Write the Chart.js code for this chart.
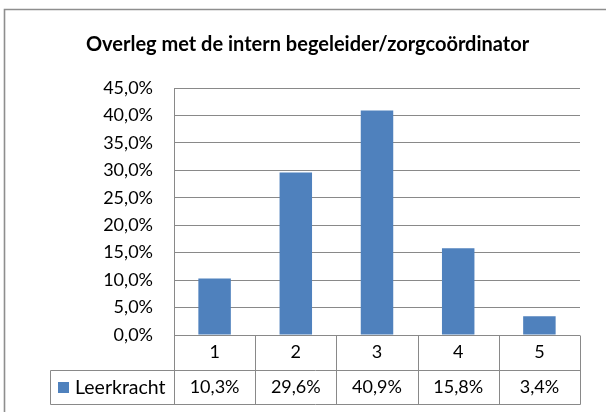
<!DOCTYPE html>
<html>
<head>
<meta charset="utf-8">
<script src="https://cdn.jsdelivr.net/npm/chart.js@4"></script>
<style>
  html, body { margin: 0; padding: 0; background: #ffffff; }
  #wrap { width: 606px; height: 412px; }
  canvas { display: block; }
</style>
</head>
<body>
<div id="wrap"><canvas id="c" width="606" height="412"></canvas></div>
<script>
// ---- data ----
const chartTitle = 'Overleg met de intern begeleider/zorgcoördinator';
const categories = ['1', '2', '3', '4', '5'];
const seriesName = 'Leerkracht';
const seriesValues = [10.3, 29.6, 40.9, 15.8, 3.4];
const yMin = 0;
const yMax = 45;
const yStep = 5;

// ---- style ----
const FONT = 'Lato, "Open Sans", sans-serif';
const BAR_COLOR = '#4F81BD';
const LINE_COLOR = '#898989';
const fmtPct = v => v.toFixed(1).replace('.', ',') + '%';

const tablePlugin = {
  id: 'dataTable',
  afterDraw(chart) {
    const ctx = chart.ctx;
    const xs = chart.scales.x;
    const ca = chart.chartArea;
    const n = categories.length;
    const colW = (xs.right - xs.left) / n;
    const top = ca.bottom;
    const rowH = xs.height / 2;
    const mid = Math.round(top + rowH) + 0.5;
    const bot = Math.round(top + xs.height) + 0.5;
    const legendLeft = 50.5;

    ctx.save();
    // outer chart border (top-left part visible)
    ctx.strokeStyle = '#8e8e8e';
    ctx.lineWidth = 1.6;
    ctx.beginPath();
    ctx.moveTo(4.5, chart.height);
    ctx.lineTo(4.5, 9.5);
    ctx.lineTo(chart.width, 9.5);
    ctx.stroke();

    // table lines
    ctx.strokeStyle = LINE_COLOR;
    ctx.lineWidth = 1;
    ctx.beginPath();
    ctx.moveTo(legendLeft, mid); ctx.lineTo(Math.round(xs.right) + 0.5, mid);
    ctx.moveTo(legendLeft, bot); ctx.lineTo(Math.round(xs.right) + 0.5, bot);
    ctx.moveTo(legendLeft, mid); ctx.lineTo(legendLeft, bot);
    for (let i = 0; i <= n; i++) {
      const x = Math.round(xs.left + i * colW) + 0.5;
      ctx.moveTo(x, Math.round(top) + 0.5);
      ctx.lineTo(x, bot);
    }
    ctx.stroke();

    // legend key + series name
    const rowMid = (mid + bot) / 2;
    ctx.fillStyle = BAR_COLOR;
    ctx.fillRect(legendLeft + 7.5, Math.round(rowMid - 6), 11, 11);
    ctx.fillStyle = '#000';
    ctx.font = '19.5px ' + FONT;
    ctx.textBaseline = 'middle';
    ctx.textAlign = 'left';
    ctx.fillText(seriesName, legendLeft + 24.5, rowMid);

    // values
    ctx.font = '18px ' + FONT;
    ctx.textAlign = 'center';
    for (let i = 0; i < n; i++) {
      ctx.fillText(fmtPct(seriesValues[i]), xs.getPixelForValue(i), rowMid);
    }
    ctx.restore();
  }
};

new Chart(document.getElementById('c'), {
  type: 'bar',
  data: {
    labels: categories,
    datasets: [{
      label: seriesName,
      data: seriesValues,
      backgroundColor: BAR_COLOR,
      borderWidth: 0,
      barPercentage: 0.4,
      categoryPercentage: 1.0
    }]
  },
  options: {
    responsive: false,
    animation: false,
    devicePixelRatio: 1,
    layout: { padding: { left: 35, right: 26, top: 0, bottom: 8 } },
    plugins: {
      legend: { display: false },
      tooltip: { enabled: false },
      title: {
        display: true,
        text: chartTitle,
        color: '#000',
        font: { family: FONT, size: 20, weight: 'bold' },
        padding: { top: 32.5, bottom: 31.5 }
      }
    },
    scales: {
      x: {
        grid: { display: false, drawTicks: false },
        border: { display: false },
        ticks: { color: '#000', font: { family: FONT, size: 18 }, padding: 6 },
        afterFit(s) { s.height = 69; }
      },
      y: {
        min: yMin,
        max: yMax,
        ticks: {
          stepSize: yStep,
          color: '#000',
          font: { family: FONT, size: 18 },
          padding: 21,
          callback: v => fmtPct(v)
        },
        grid: { color: LINE_COLOR, lineWidth: 1, drawTicks: false },
        border: { display: true, color: LINE_COLOR, width: 1 },
        afterFit(s) { s.width = 139; }
      }
    }
  },
  plugins: [tablePlugin]
});
</script>
</body>
</html>
